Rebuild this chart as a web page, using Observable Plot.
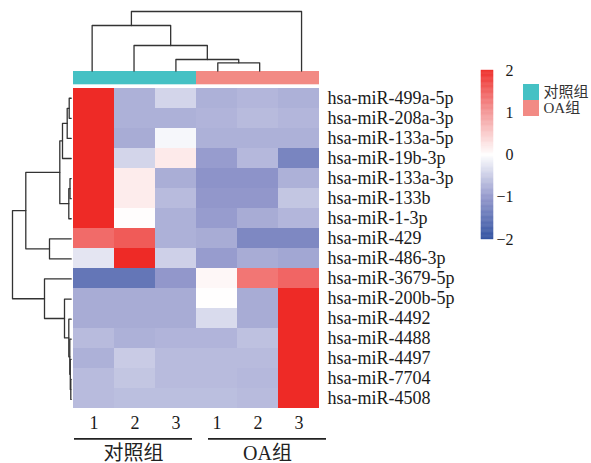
<!DOCTYPE html>
<html><head><meta charset="utf-8">
<script src="https://cdn.jsdelivr.net/npm/d3@7"></script>
<script src="https://cdn.jsdelivr.net/npm/@observablehq/plot@0.6"></script>
<style>
body{margin:0;background:#fff;}
#chart{position:relative;width:591px;height:463px;background:#fff;overflow:hidden;}
#chart svg{position:absolute;left:0;top:0;}
</style></head><body><div id="chart"></div>
<script>
// ---- data ----
const genes = ["hsa-miR-499a-5p","hsa-miR-208a-3p","hsa-miR-133a-5p","hsa-miR-19b-3p","hsa-miR-133a-3p","hsa-miR-133b","hsa-miR-1-3p","hsa-miR-429","hsa-miR-486-3p","hsa-miR-3679-5p","hsa-miR-200b-5p","hsa-miR-4492","hsa-miR-4488","hsa-miR-4497","hsa-miR-7704","hsa-miR-4508"];
const columns = ["C1","C2","C3","O1","O2","O3"];
const columnLabels = ["1","2","3","1","2","3"];
const columnGroups = ["对照组","对照组","对照组","OA组","OA组","OA组"];
const groups = ["对照组","OA组"];
const groupColors = ["#45C1C4","#F28A84"];
// z-scores per sample (rows in gene order)
const C1 = [2, 2, 2, 2, 2, 2, 2, 1.4, -0.25, -1.45, -0.8, -0.8, -0.65, -0.75, -0.65, -0.65];
const C2 = [-0.75, -0.75, -0.8, -0.4, 0.18, 0.18, 0.02, 1.55, 2, -1.45, -0.8, -0.8, -0.75, -0.5, -0.55, -0.62];
const C3 = [-0.4, -0.75, -0.08, 0.2, -0.78, -0.65, -0.75, -0.75, -0.45, -1.0, -0.8, -0.8, -0.72, -0.65, -0.65, -0.62];
const O1 = [-0.75, -0.72, -0.75, -0.95, -1.05, -1.0, -0.95, -0.8, -0.95, 0.08, 0.01, -0.35, -0.72, -0.65, -0.65, -0.62];
const O2 = [-0.7, -0.65, -0.75, -0.68, -1.05, -1.0, -0.8, -1.2, -0.8, 1.3, -0.8, -0.8, -0.6, -0.65, -0.68, -0.65];
const O3 = [-0.75, -0.7, -0.75, -1.25, -0.75, -0.55, -0.7, -1.2, -0.85, 1.45, 2, 2, 2, 2, 2, 2];
const sampleValues = [C1, C2, C3, O1, O2, O3];
// hierarchical clustering merges: [childA, childB, height]; negative = leaf (1-based)
const rowMerge = [[-1,-2,2.0],[1,-3,4.0],[2,-4,8.7],[-5,-6,1.2],[4,-7,2.4],[3,5,11.4],[-8,-9,21.7],[6,7,45.4],[-15,-16,0.4],[-14,9,0.9],[-13,10,1.4],[-12,11,2.4],[-11,12,6.7],[-10,13,26.7],[8,14,58.7]];
const colMerge = [[-4,-5,8.2],[-3,1,11.5],[-2,2,25.5],[-1,3,45.5],[4,-6,59.5]];
const colorTicks = [-2,-1,0,1,2];
const colorStops = [-2,-1,0,1,2];
const colorRange = ["#2C4E9F","#9297CB","#FFFFFF","#F39696","#EE2A26"];

// ---- helpers ----
const cells = [];
columns.forEach((c, j) => genes.forEach((g, i) => cells.push({col: c, gene: g, value: sampleValues[j][i]})));
function dendro(merge) {
  const pos = [], hgt = [], out = [];
  merge.forEach(([a, b, h], k) => {
    const p = c => c < 0 ? [-c - 1 + 0.5, 0] : [pos[c - 1], hgt[c - 1]];
    const [pa, ha] = p(a), [pb, hb] = p(b);
    [[pa, ha], [pa, h], [pb, h], [pb, hb]].forEach(([pp, hh]) => out.push({id: k, p: pp, h: hh}));
    pos[k] = (pa + pb) / 2; hgt[k] = h;
  });
  return out;
}
const colorScale = {type: "linear", domain: colorStops, range: colorRange, interpolate: "rgb", clamp: true};
const W = 591, H = 463;
const L = 70.7, R = W - 322, T = 87.7, B = H - 409;
const serif = "'Liberation Serif', 'Times New Roman', 'Noto Sans CJK SC', serif";
const base = {width: W, height: H, style: {background: "transparent", fontFamily: serif, color: "#1a1a1a", overflow: "visible"}};
const el = document.getElementById("chart");

// heatmap
el.append(Plot.plot({...base, style: {...base.style, fontSize: "18px"},
  marginLeft: L, marginRight: R, marginTop: T, marginBottom: B,
  x: {domain: columns, padding: 0, axis: null},
  y: {domain: genes, padding: 0, axis: null},
  color: colorScale,
  marks: [
    Plot.cell(cells, {x: "col", y: "gene", fill: "value"}),
    Plot.axisY({anchor: "right", tickSize: 0, tickPadding: 5, label: null, fontSize: 18}),
    Plot.axisX({anchor: "bottom", tickSize: 0, tickPadding: 7, label: null, fontSize: 18, tickFormat: d => columnLabels[columns.indexOf(d)]})
  ]
}));

// annotation strip
el.append(Plot.plot({...base,
  marginLeft: L, marginRight: R, marginTop: 71, marginBottom: H - 84.3,
  x: {domain: columns, padding: 0, axis: null},
  color: {domain: groups, range: groupColors},
  marks: [Plot.cell(columns, {x: d => d, fill: (d, i) => columnGroups[i]})]
}));

// column dendrogram
el.append(Plot.plot({...base,
  marginLeft: L, marginRight: R, marginTop: 11, marginBottom: H - 70.5,
  x: {domain: [0, columns.length], axis: null},
  y: {domain: [0, d3.max(colMerge, d => d[2])], axis: null},
  marks: [Plot.line(dendro(colMerge), {x: "p", y: "h", z: "id", stroke: "#333", strokeWidth: 1.3})]
}));

// row dendrogram
el.append(Plot.plot({...base,
  marginLeft: 12, marginRight: W - L, marginTop: T, marginBottom: B,
  x: {domain: [0, d3.max(rowMerge, d => d[2])], reverse: true, axis: null},
  y: {domain: [0, genes.length], reverse: true, axis: null},
  marks: [Plot.line(dendro(rowMerge), {x: "h", y: "p", z: "id", stroke: "#333", strokeWidth: 1.3})]
}));

// color bar
const steps = d3.range(-2, 2, 0.02);
el.append(Plot.plot({...base, style: {...base.style, fontSize: "16px"},
  marginLeft: 481, marginRight: W - 493, marginTop: 70, marginBottom: H - 239,
  x: {domain: [0, 1], axis: null},
  y: {domain: [-2, 2], axis: null},
  color: colorScale,
  marks: [
    Plot.rect(steps, {x1: 0, x2: 1, y1: d => d, y2: d => d + 0.02, fill: d => d + 0.01, stroke: d => d + 0.01, strokeWidth: 0.4}),
    Plot.axisY(colorTicks, {anchor: "right", tickSize: 0, tickPadding: 20, textAnchor: "end", label: null, fontSize: 16})
  ]
}));

// group legend
el.append(Plot.plot({...base, style: {...base.style, fontSize: "15px"},
  marginLeft: 523, marginRight: W - 539, marginTop: 83, marginBottom: H - 116,
  y: {domain: groups, padding: 0, axis: null},
  color: {domain: groups, range: groupColors},
  marks: [
    Plot.cell(groups, {y: d => d, fill: d => d}),
    Plot.text(groups, {y: d => d, text: d => d, frameAnchor: "right", textAnchor: "start", dx: 4, fontSize: 15, fill: "#333"})
  ]
}));

// bottom group labels
el.append(Plot.plot({...base,
  marginLeft: 74, marginRight: W - 326, marginTop: 0, marginBottom: 0,
  x: {domain: groups, type: "band", paddingInner: 0.12, paddingOuter: 0, axis: null},
  y: {domain: [0, 1], range: [438.3, 453], axis: null},
  marks: [
    Plot.tickY(groups, {x: d => d, y: 0, stroke: "#222", strokeWidth: 1.8}),
    Plot.text(groups, {x: d => d, y: 1, text: d => d, fontSize: 20, fill: "#222", lineAnchor: "middle"})
  ]
}));
</script></body></html>
